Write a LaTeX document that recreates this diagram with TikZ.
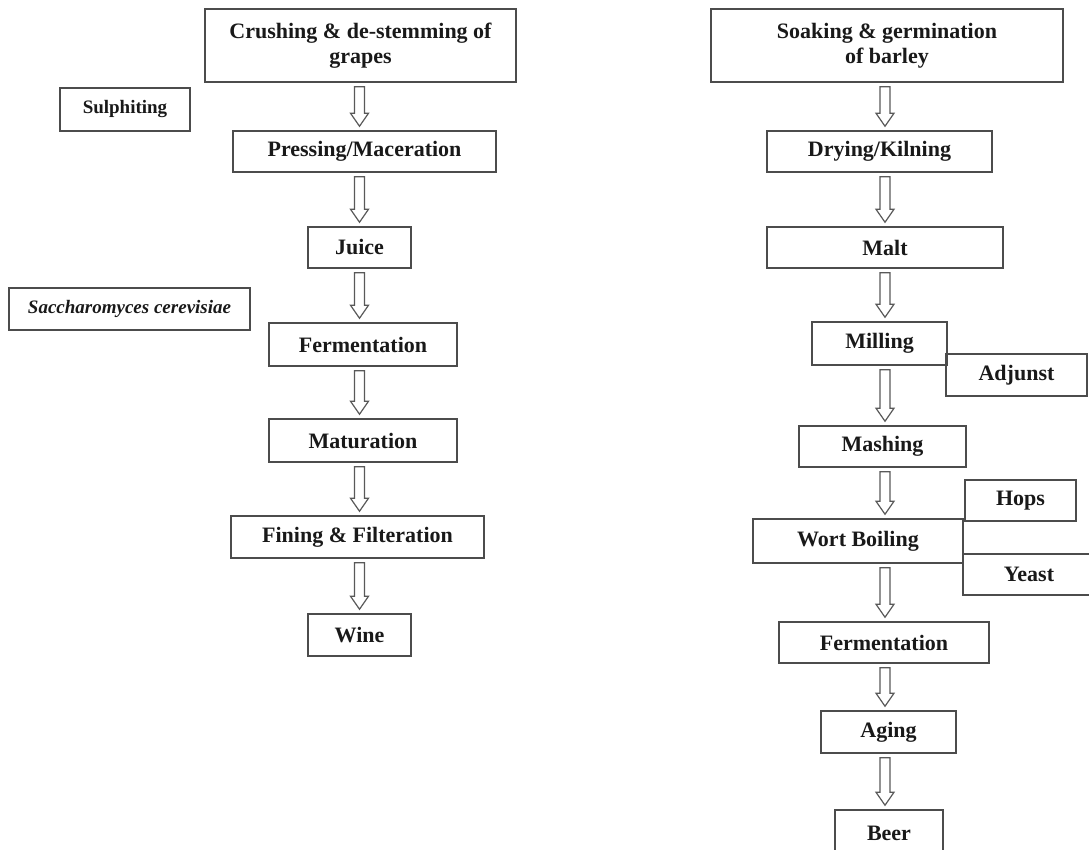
\documentclass[tikz,border=0pt]{standalone}
\usepackage{fontspec}
\setmainfont{Liberation Serif}
\usetikzlibrary{calc}

\begin{document}
\begin{tikzpicture}[x=1pt, y=-1pt]
    \tikzstyle{stage} = [rectangle, draw=black!70, line width=1.5pt, inner sep=0pt, align=center, text=black!90, font=\bfseries\fontsize{22}{25}\selectfont]
    \tikzstyle{additive} = [stage, font=\bfseries\fontsize{19}{22}\selectfont]
    \tikzstyle{flow} = [draw=black!65, line width=1.2pt, to path={let \p1=(\tikztostart), \p2=(\tikztotarget) in
        (\x1-5pt,\y1-4pt) -- (\x1-5pt,\y2+17pt) -- (\x1-9pt,\y2+17pt) -- (\x1,\y2+4pt)
        -- (\x1+9pt,\y2+17pt) -- (\x1+5pt,\y2+17pt) -- (\x1+5pt,\y1-4pt) -- cycle}]

    \useasboundingbox (0,0) rectangle (1089,850);

    % Wine
    \node[stage, minimum width=311, minimum height=73] (w1) at (360.5,45.5) {Crushing \& de-stemming of\\grapes};
    \node[stage, minimum width=263, minimum height=41] (w2) at (364.5,151.5) {Pressing/Maceration};
    \node[stage, minimum width=103, minimum height=41] (w3) at (359.5,247.5) {Juice};
    \node[stage, minimum width=188, minimum height=43] (w4) at (363,344.5) {Fermentation};
    \node[stage, minimum width=188, minimum height=43] (w5) at (363,440.5) {Maturation};
    \node[stage, minimum width=253, minimum height=42] (w6) at (357.5,537) {Fining \& Filteration};
    \node[stage, minimum width=103, minimum height=42] (w7) at (359.5,635) {Wine};
    \node[additive, minimum width=130, minimum height=43] (sul) at (125,109.5) {Sulphiting};
    \node[additive, minimum width=241, minimum height=42, font=\bfseries\itshape\fontsize{19}{22}\selectfont] (sac) at (129.5,309) {Saccharomyces cerevisiae};

    \foreach \a/\b in {w1/w2, w2/w3, w3/w4, w4/w5, w5/w6, w6/w7}
        \draw[flow] (\a.south -| w3.north) to (\b.north -| w3.north);

    % Beer
    \node[stage, minimum width=352, minimum height=73] (b1) at (887,45.5) {Soaking \& germination\\of barley};
    \node[stage, minimum width=225, minimum height=41] (b2) at (879.5,151.5) {Drying/Kilning};
    \node[stage, minimum width=236, minimum height=41] (b3) at (885,247.5) {Malt};
    \node[stage, minimum width=135, minimum height=43] (b4) at (879.5,343.5) {Milling};
    \node[stage, minimum width=167, minimum height=41] (b5) at (882.5,446.5) {Mashing};
    \node[stage, minimum width=210, minimum height=44] (b6) at (858,541) {Wort Boiling};
    \node[stage, minimum width=210, minimum height=41] (b7) at (884,642.5) {Fermentation};
    \node[stage, minimum width=135, minimum height=42] (b8) at (888.5,732) {Aging};
    \node[stage, minimum width=108, minimum height=46] (b9) at (889,833) {Beer};
    \node[stage, minimum width=141, minimum height=42] (adj) at (1016.5,375) {Adjunst};
    \node[stage, minimum width=111, minimum height=41] (hop) at (1020.5,500.5) {Hops};
    \node[stage, minimum width=132, minimum height=41] (yst) at (1029,574.5) {Yeast};

    \foreach \a/\b in {b1/b2, b2/b3, b3/b4, b4/b5, b5/b6, b6/b7, b7/b8, b8/b9}
        \draw[flow] (\a.south -| b3.north) to (\b.north -| b3.north);

\end{tikzpicture}
\end{document}
